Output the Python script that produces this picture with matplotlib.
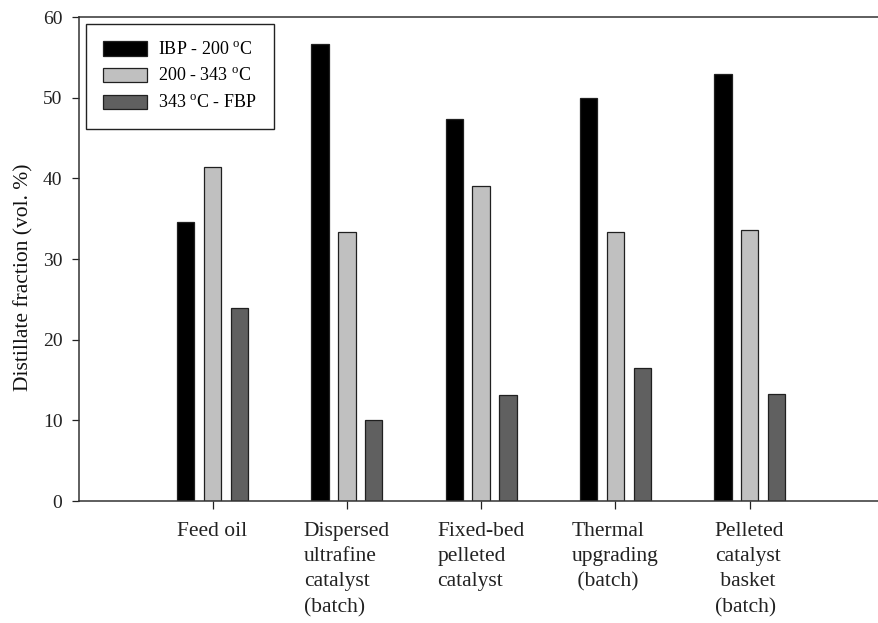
import matplotlib
matplotlib.use("Agg")
import matplotlib.pyplot as plt
import numpy as np

plt.rcParams['font.family'] = ['Liberation Serif', 'DejaVu Serif']
plt.rcParams['mathtext.fontset'] = 'custom'
plt.rcParams['mathtext.rm'] = 'Liberation Serif'

# Distillate fractions (vol. %) for each sample
categories = ["Feed oil",
              "Dispersed\nultrafine\ncatalyst\n(batch)",
              "Fixed-bed\npelleted\ncatalyst",
              "Thermal\nupgrading\n (batch)",
              "Pelleted\ncatalyst\n basket\n(batch)"]
ibp_200 = [34.6, 56.6, 47.4, 49.9, 52.9]
mid_200_343 = [41.4, 33.3, 39.1, 33.3, 33.6]
above_343 = [23.9, 10.0, 13.2, 16.5, 13.3]
series_labels = [r"IBP - 200 $^{\mathregular{o}}$C",
                 r"200 - 343 $^{\mathregular{o}}$C",
                 r"343 $^{\mathregular{o}}$C - FBP"]
y_ticks = [0, 10, 20, 30, 40, 50, 60]

fig = plt.figure(figsize=(8.79, 6.23), dpi=100)
ax = fig.add_axes([0.0899, 0.1958, 0.9101, 0.7769])

x = np.arange(len(categories))
width = 0.13
offset = 0.2
colors = ["#000000", "#c0c0c0", "#606060"]
for vals, dx, col, lab in zip([ibp_200, mid_200_343, above_343],
                              [-offset, 0, offset], colors, series_labels):
    ax.bar(x + dx, vals, width, color=col, edgecolor="#202020",
           linewidth=0.9, label=lab, zorder=2)

ax.set_xlim(-0.994, 4.963)
ax.set_ylim(0, 60)
ax.set_yticks(y_ticks)
ax.set_xticks(x)
ax.set_xticklabels(categories, fontsize=15.5, linespacing=1.45)
for t in ax.get_xticklabels():
    t.set_multialignment('left')
ax.tick_params(axis='x', direction='out', length=6, width=0.9, pad=9,
               colors='#222222')
ax.tick_params(axis='y', direction='out', length=5, width=0.9, pad=7,
               labelsize=14, colors='#222222')
ax.set_ylabel("Distillate fraction (vol. %)", fontsize=15.5, color='#111111')
ax.yaxis.set_label_coords(-0.057, 0.463)

ax.spines['right'].set_visible(False)
for side in ['left', 'top', 'bottom']:
    ax.spines[side].set_linewidth(1.1)
    ax.spines[side].set_color('#333333')

leg = ax.legend(loc='upper left', fontsize=13, frameon=True, fancybox=False,
                edgecolor='#222222', framealpha=1, borderaxespad=0.4,
                borderpad=0.95, handlelength=2.44, handleheight=0.83,
                handletextpad=0.61, labelspacing=0.52)
leg.get_frame().set_linewidth(1.0)

fig.savefig("out.png", dpi=100, facecolor='white')
